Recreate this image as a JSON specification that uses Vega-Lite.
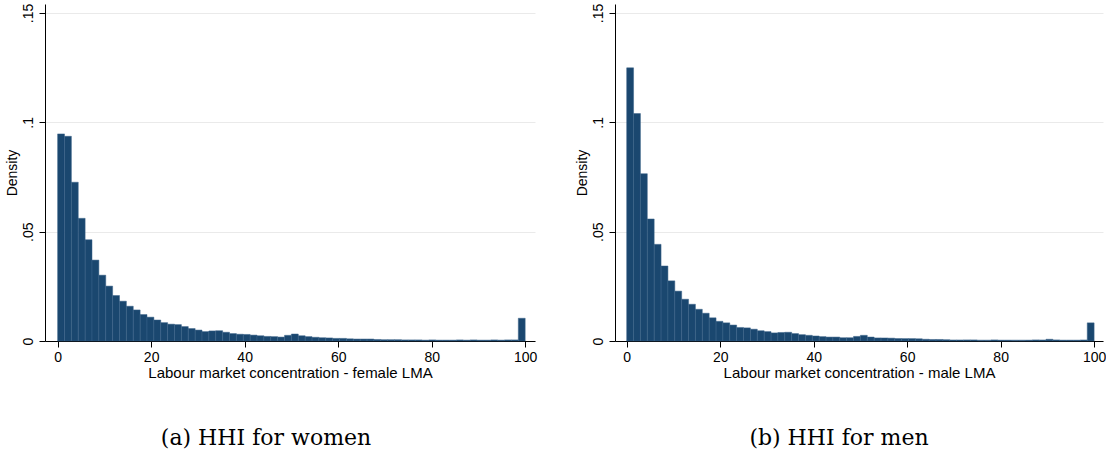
{
  "$schema": "https://vega.github.io/schema/vega-lite/v6.json",
  "background": "white",
  "padding": {"left": 4, "top": 3, "right": 0, "bottom": 0},
  "spacing": 37,
  "config": {
    "view": {"stroke": null},
    "font": "Liberation Sans",
    "axis": {
      "domainColor": "#000000",
      "tickColor": "#000000",
      "tickSize": 6,
      "labelFont": "Liberation Sans",
      "titleFont": "Liberation Sans",
      "labelFontSize": 14,
      "titleFontSize": 14,
      "titleFontWeight": "normal",
      "labelColor": "#000000",
      "titleColor": "#000000",
      "gridColor": "#eaeaea",
      "gridWidth": 1
    },
    "axisX": {"grid": false, "labelPadding": 3, "titlePadding": 1, "titleFontSize": 15, "labelFlush": false},
    "axisY": {
      "grid": true,
      "labelAngle": 270,
      "labelAlign": "center",
      "labelBaseline": "bottom",
      "labelPadding": 4,
      "titlePadding": 2,
      "labelExpr": "datum.value == 0 ? '0' : replace(format(datum.value, '.2~f'), '0.', '.')"
    },
    "title": {
      "font": "DejaVu Serif",
      "fontSize": 22,
      "fontWeight": "normal",
      "color": "#000000",
      "anchor": "middle",
      "baseline": "alphabetic"
    }
  },
  "datasets": {
    "women": [
      {"x0": 0, "x1": 1.4706, "d": 0.0947},
      {"x0": 1.4706, "x1": 2.9412, "d": 0.0936},
      {"x0": 2.9412, "x1": 4.4118, "d": 0.0726},
      {"x0": 4.4118, "x1": 5.8824, "d": 0.0561},
      {"x0": 5.8824, "x1": 7.3529, "d": 0.0463},
      {"x0": 7.3529, "x1": 8.8235, "d": 0.0370},
      {"x0": 8.8235, "x1": 10.2941, "d": 0.0301},
      {"x0": 10.2941, "x1": 11.7647, "d": 0.0251},
      {"x0": 11.7647, "x1": 13.2353, "d": 0.0208},
      {"x0": 13.2353, "x1": 14.7059, "d": 0.0182},
      {"x0": 14.7059, "x1": 16.1765, "d": 0.0159},
      {"x0": 16.1765, "x1": 17.6471, "d": 0.0142},
      {"x0": 17.6471, "x1": 19.1176, "d": 0.0121},
      {"x0": 19.1176, "x1": 20.5882, "d": 0.0109},
      {"x0": 20.5882, "x1": 22.0588, "d": 0.0096},
      {"x0": 22.0588, "x1": 23.5294, "d": 0.0084},
      {"x0": 23.5294, "x1": 25, "d": 0.0077},
      {"x0": 25, "x1": 26.4706, "d": 0.0075},
      {"x0": 26.4706, "x1": 27.9412, "d": 0.0066},
      {"x0": 27.9412, "x1": 29.4118, "d": 0.0057},
      {"x0": 29.4118, "x1": 30.8824, "d": 0.0050},
      {"x0": 30.8824, "x1": 32.3529, "d": 0.0043},
      {"x0": 32.3529, "x1": 33.8235, "d": 0.0046},
      {"x0": 33.8235, "x1": 35.2941, "d": 0.0047},
      {"x0": 35.2941, "x1": 36.7647, "d": 0.0040},
      {"x0": 36.7647, "x1": 38.2353, "d": 0.0034},
      {"x0": 38.2353, "x1": 39.7059, "d": 0.0031},
      {"x0": 39.7059, "x1": 41.1765, "d": 0.0030},
      {"x0": 41.1765, "x1": 42.6471, "d": 0.0027},
      {"x0": 42.6471, "x1": 44.1176, "d": 0.0024},
      {"x0": 44.1176, "x1": 45.5882, "d": 0.0021},
      {"x0": 45.5882, "x1": 47.0588, "d": 0.0020},
      {"x0": 47.0588, "x1": 48.5294, "d": 0.0018},
      {"x0": 48.5294, "x1": 50, "d": 0.0026},
      {"x0": 50, "x1": 51.4706, "d": 0.0032},
      {"x0": 51.4706, "x1": 52.9412, "d": 0.0024},
      {"x0": 52.9412, "x1": 54.4118, "d": 0.0020},
      {"x0": 54.4118, "x1": 55.8824, "d": 0.0017},
      {"x0": 55.8824, "x1": 57.3529, "d": 0.0015},
      {"x0": 57.3529, "x1": 58.8235, "d": 0.0014},
      {"x0": 58.8235, "x1": 60.2941, "d": 0.0012},
      {"x0": 60.2941, "x1": 61.7647, "d": 0.0012},
      {"x0": 61.7647, "x1": 63.2353, "d": 0.0010},
      {"x0": 63.2353, "x1": 64.7059, "d": 0.0009},
      {"x0": 64.7059, "x1": 66.1765, "d": 0.0009},
      {"x0": 66.1765, "x1": 67.6471, "d": 0.0009},
      {"x0": 67.6471, "x1": 69.1176, "d": 0.0007},
      {"x0": 69.1176, "x1": 70.5882, "d": 0.0006},
      {"x0": 70.5882, "x1": 72.0588, "d": 0.0006},
      {"x0": 72.0588, "x1": 73.5294, "d": 0.0006},
      {"x0": 73.5294, "x1": 75, "d": 0.0005},
      {"x0": 75, "x1": 76.4706, "d": 0.0005},
      {"x0": 76.4706, "x1": 77.9412, "d": 0.0005},
      {"x0": 77.9412, "x1": 79.4118, "d": 0.0004},
      {"x0": 79.4118, "x1": 80.8824, "d": 0.0005},
      {"x0": 80.8824, "x1": 82.3529, "d": 0.0004},
      {"x0": 82.3529, "x1": 83.8235, "d": 0.0004},
      {"x0": 83.8235, "x1": 85.2941, "d": 0.0004},
      {"x0": 85.2941, "x1": 86.7647, "d": 0.0005},
      {"x0": 86.7647, "x1": 88.2353, "d": 0.0004},
      {"x0": 88.2353, "x1": 89.7059, "d": 0.0005},
      {"x0": 89.7059, "x1": 91.1765, "d": 0.0004},
      {"x0": 91.1765, "x1": 92.6471, "d": 0.0004},
      {"x0": 92.6471, "x1": 94.1176, "d": 0.0005},
      {"x0": 94.1176, "x1": 95.5882, "d": 0.0004},
      {"x0": 95.5882, "x1": 97.0588, "d": 0.0005},
      {"x0": 97.0588, "x1": 98.5294, "d": 0.0005},
      {"x0": 98.5294, "x1": 100, "d": 0.0104}
    ],
    "men": [
      {"x0": 0, "x1": 1.4706, "d": 0.1249},
      {"x0": 1.4706, "x1": 2.9412, "d": 0.1040},
      {"x0": 2.9412, "x1": 4.4118, "d": 0.0765},
      {"x0": 4.4118, "x1": 5.8824, "d": 0.0558},
      {"x0": 5.8824, "x1": 7.3529, "d": 0.0442},
      {"x0": 7.3529, "x1": 8.8235, "d": 0.0343},
      {"x0": 8.8235, "x1": 10.2941, "d": 0.0275},
      {"x0": 10.2941, "x1": 11.7647, "d": 0.0228},
      {"x0": 11.7647, "x1": 13.2353, "d": 0.0191},
      {"x0": 13.2353, "x1": 14.7059, "d": 0.0168},
      {"x0": 14.7059, "x1": 16.1765, "d": 0.0145},
      {"x0": 16.1765, "x1": 17.6471, "d": 0.0127},
      {"x0": 17.6471, "x1": 19.1176, "d": 0.0106},
      {"x0": 19.1176, "x1": 20.5882, "d": 0.0090},
      {"x0": 20.5882, "x1": 22.0588, "d": 0.0083},
      {"x0": 22.0588, "x1": 23.5294, "d": 0.0073},
      {"x0": 23.5294, "x1": 25, "d": 0.0062},
      {"x0": 25, "x1": 26.4706, "d": 0.0060},
      {"x0": 26.4706, "x1": 27.9412, "d": 0.0054},
      {"x0": 27.9412, "x1": 29.4118, "d": 0.0047},
      {"x0": 29.4118, "x1": 30.8824, "d": 0.0043},
      {"x0": 30.8824, "x1": 32.3529, "d": 0.0037},
      {"x0": 32.3529, "x1": 33.8235, "d": 0.0039},
      {"x0": 33.8235, "x1": 35.2941, "d": 0.0040},
      {"x0": 35.2941, "x1": 36.7647, "d": 0.0034},
      {"x0": 36.7647, "x1": 38.2353, "d": 0.0029},
      {"x0": 38.2353, "x1": 39.7059, "d": 0.0026},
      {"x0": 39.7059, "x1": 41.1765, "d": 0.0023},
      {"x0": 41.1765, "x1": 42.6471, "d": 0.0020},
      {"x0": 42.6471, "x1": 44.1176, "d": 0.0018},
      {"x0": 44.1176, "x1": 45.5882, "d": 0.0018},
      {"x0": 45.5882, "x1": 47.0588, "d": 0.0015},
      {"x0": 47.0588, "x1": 48.5294, "d": 0.0015},
      {"x0": 48.5294, "x1": 50, "d": 0.0021},
      {"x0": 50, "x1": 51.4706, "d": 0.0026},
      {"x0": 51.4706, "x1": 52.9412, "d": 0.0018},
      {"x0": 52.9412, "x1": 54.4118, "d": 0.0014},
      {"x0": 54.4118, "x1": 55.8824, "d": 0.0014},
      {"x0": 55.8824, "x1": 57.3529, "d": 0.0013},
      {"x0": 57.3529, "x1": 58.8235, "d": 0.0011},
      {"x0": 58.8235, "x1": 60.2941, "d": 0.0011},
      {"x0": 60.2941, "x1": 61.7647, "d": 0.0011},
      {"x0": 61.7647, "x1": 63.2353, "d": 0.0010},
      {"x0": 63.2353, "x1": 64.7059, "d": 0.0008},
      {"x0": 64.7059, "x1": 66.1765, "d": 0.0007},
      {"x0": 66.1765, "x1": 67.6471, "d": 0.0007},
      {"x0": 67.6471, "x1": 69.1176, "d": 0.0006},
      {"x0": 69.1176, "x1": 70.5882, "d": 0.0005},
      {"x0": 70.5882, "x1": 72.0588, "d": 0.0005},
      {"x0": 72.0588, "x1": 73.5294, "d": 0.0005},
      {"x0": 73.5294, "x1": 75, "d": 0.0005},
      {"x0": 75, "x1": 76.4706, "d": 0.0004},
      {"x0": 76.4706, "x1": 77.9412, "d": 0.0004},
      {"x0": 77.9412, "x1": 79.4118, "d": 0.0005},
      {"x0": 79.4118, "x1": 80.8824, "d": 0.0004},
      {"x0": 80.8824, "x1": 82.3529, "d": 0.0004},
      {"x0": 82.3529, "x1": 83.8235, "d": 0.0004},
      {"x0": 83.8235, "x1": 85.2941, "d": 0.0004},
      {"x0": 85.2941, "x1": 86.7647, "d": 0.0004},
      {"x0": 86.7647, "x1": 88.2353, "d": 0.0005},
      {"x0": 88.2353, "x1": 89.7059, "d": 0.0005},
      {"x0": 89.7059, "x1": 91.1765, "d": 0.0008},
      {"x0": 91.1765, "x1": 92.6471, "d": 0.0005},
      {"x0": 92.6471, "x1": 94.1176, "d": 0.0004},
      {"x0": 94.1176, "x1": 95.5882, "d": 0.0004},
      {"x0": 95.5882, "x1": 97.0588, "d": 0.0004},
      {"x0": 97.0588, "x1": 98.5294, "d": 0.0005},
      {"x0": 98.5294, "x1": 100, "d": 0.0083}
    ]
  },
  "hconcat": [
    {
      "width": 490,
      "height": 337,
      "data": {"name": "women"},
      "title": {"text": "(a) HHI for women", "orient": "bottom", "dx": -24, "offset": 48},
      "mark": {"type": "bar", "fill": "#1a476f", "stroke": "#3b6288", "strokeWidth": 0.5},
      "encoding": {
        "x": {
          "field": "x0",
          "type": "quantitative",
          "scale": {"domain": [-2.7, 102.1], "nice": false, "zero": false},
          "axis": {"values": [0, 20, 40, 60, 80, 100], "title": "Labour market concentration - female LMA"}
        },
        "x2": {"field": "x1"},
        "y": {
          "field": "d",
          "type": "quantitative",
          "scale": {"domain": [0, 0.1541], "nice": false},
          "axis": {"values": [0, 0.05, 0.1, 0.15], "title": "Density"}
        },
        "y2": {"datum": 0}
      }
    },
    {
      "width": 488,
      "height": 337,
      "data": {"name": "men"},
      "title": {"text": "(b) HHI for men", "orient": "bottom", "dx": -20, "offset": 48},
      "mark": {"type": "bar", "fill": "#1a476f", "stroke": "#3b6288", "strokeWidth": 0.5},
      "encoding": {
        "x": {
          "field": "x0",
          "type": "quantitative",
          "scale": {"domain": [-2.5, 101.9], "nice": false, "zero": false},
          "axis": {"values": [0, 20, 40, 60, 80, 100], "title": "Labour market concentration - male LMA"}
        },
        "x2": {"field": "x1"},
        "y": {
          "field": "d",
          "type": "quantitative",
          "scale": {"domain": [0, 0.1541], "nice": false},
          "axis": {"values": [0, 0.05, 0.1, 0.15], "title": "Density"}
        },
        "y2": {"datum": 0}
      }
    }
  ]
}
